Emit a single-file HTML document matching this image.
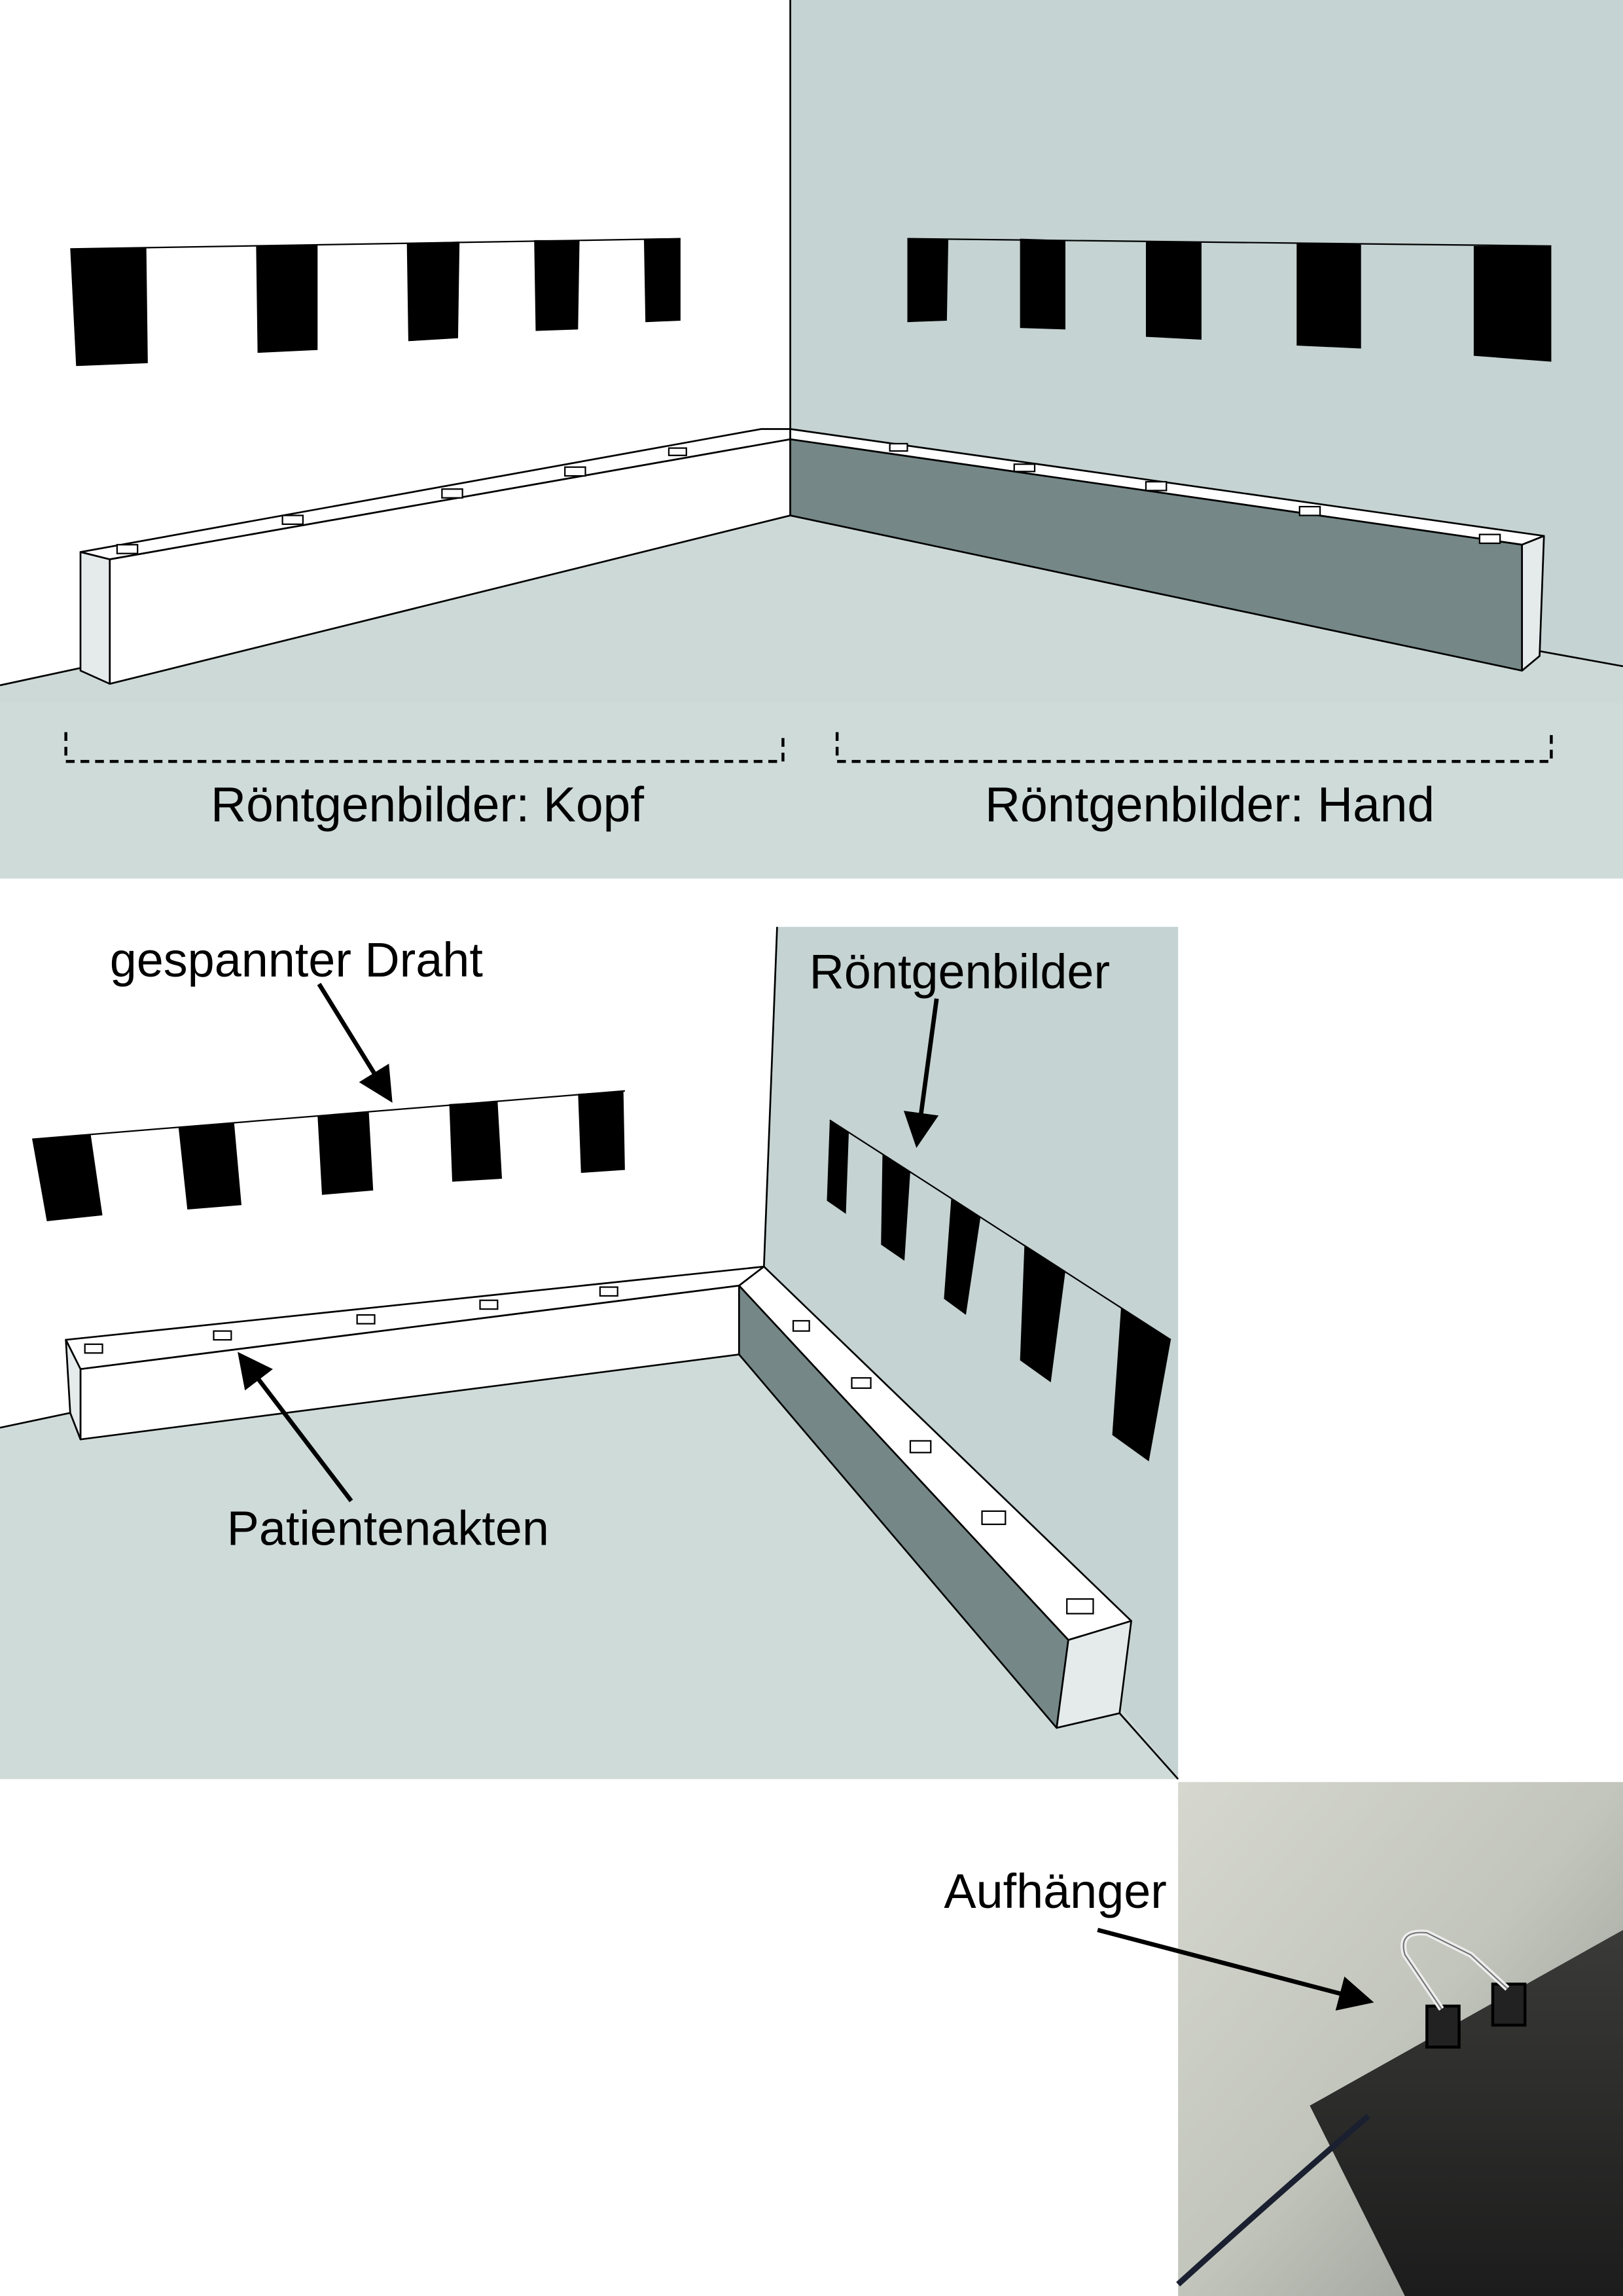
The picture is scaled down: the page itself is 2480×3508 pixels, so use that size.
<!DOCTYPE html>
<html><head><meta charset="utf-8"><style>
html,body{margin:0;padding:0;background:#fff;}
svg{display:block;}
text{font-family:"Liberation Sans",sans-serif;fill:#000;}
</style></head><body>
<svg width="2480" height="3508" viewBox="0 0 1109 1568" preserveAspectRatio="none" xmlns="http://www.w3.org/2000/svg">
<defs>
<marker id="ah" markerWidth="8" markerHeight="8" refX="6" refY="4" orient="auto" markerUnits="strokeWidth">
<path d="M0,0 L8,4 L0,8 z" fill="#000"/></marker>
<linearGradient id="ph" x1="0" y1="0" x2="1" y2="1">
<stop offset="0" stop-color="#d6d8cf"/><stop offset="0.5" stop-color="#c2c5bc"/><stop offset="1" stop-color="#8d908a"/></linearGradient>
<linearGradient id="pp" x1="0" y1="0" x2="0" y2="1">
<stop offset="0" stop-color="#3a3a38"/><stop offset="1" stop-color="#1c1c1c"/></linearGradient>
</defs>
<!-- TOP PANEL -->
<rect x="0" y="0" width="1109" height="600" fill="#cfdbd8"/>
<polygon points="0,0 540,0 540,352 0,468" fill="#fff"/>
<polygon points="540,0 1109,0 1109,455 540,352" fill="#c5d3d2"/>
<polygon points="0,468 540,352 1109,455 1109,480 0,480" fill="#cdd9d6"/>
<g stroke="#000" stroke-width="1.2" fill="none">
<line x1="540" y1="0" x2="540" y2="352"/>
<line x1="0" y1="468" x2="540" y2="352"/>
<line x1="540" y1="352" x2="1109" y2="455"/>
</g>
<g stroke="#000" stroke-width="1.2" stroke-linejoin="round">
<polygon points="55,377 520,293 540,293 540,300 75,382" fill="#fff"/>
<polygon points="75,382 540,300 540,352 75,467" fill="#fff"/>
<polygon points="55,377 75,382 75,467 55,458" fill="#e4ebea"/>
<polygon points="540,293 1055,366 1040,372 540,300" fill="#fff"/>
<polygon points="540,300 1040,372 1040,458 540,352" fill="#758787"/>
<polygon points="1040,372 1055,366 1052,448 1040,458" fill="#e4ebea"/>
</g>
<g fill="#fff" stroke="#000" stroke-width="1">
<rect x="80" y="372" width="14" height="6"/><rect x="193" y="352" width="14" height="6"/>
<rect x="302" y="334" width="14" height="6"/><rect x="386" y="319" width="14" height="6"/>
<rect x="457" y="306" width="12" height="5"/>
<rect x="608" y="303" width="12" height="5"/><rect x="693" y="317" width="14" height="5"/>
<rect x="783" y="329" width="14" height="6"/><rect x="888" y="346" width="14" height="6"/>
<rect x="1011" y="365" width="14" height="6"/>
</g>
<line x1="48" y1="170" x2="465" y2="163" stroke="#000" stroke-width="1"/>
<line x1="620" y1="163" x2="1060" y2="168" stroke="#000" stroke-width="1"/>
<g fill="#000">
<polygon points="48,170 100,169 101,248 52,250"/>
<polygon points="175,168 217,167 217,239 176,241"/>
<polygon points="278,166 314,165 313,231 279,233"/>
<polygon points="365,164 396,164 395,225 366,226"/>
<polygon points="440,163 465,163 465,219 441,220"/>
<polygon points="620,163 648,163 647,219 620,220"/>
<polygon points="697,163 728,164 728,225 697,224"/>
<polygon points="783,165 821,165 821,232 783,230"/>
<polygon points="886,166 930,167 930,238 886,236"/>
<polygon points="1007,168 1060,168 1060,247 1007,243"/>
</g>
<g stroke="#000" stroke-width="2" stroke-dasharray="6,4" fill="none">
<path d="M45,500 L45,520 L535,520 L535,500"/>
<path d="M572,500 L572,520 L1060,520 L1060,500"/>
</g>
<text x="144" y="561" font-size="33.5">Röntgenbilder: Kopf</text>
<text x="673" y="561" font-size="33.5">Röntgenbilder: Hand</text>
<!-- MIDDLE PANEL -->
<polygon points="531,633 805,633 805,1215 522,865" fill="#c5d3d2"/>
<polygon points="0,975 522,865 805,1215 0,1215" fill="#cfdbd8"/>
<g stroke="#000" stroke-width="1.2" fill="none">
<line x1="531" y1="633" x2="522" y2="865"/>
<line x1="0" y1="975" x2="522" y2="865"/>
<line x1="765" y1="1170" x2="805" y2="1215"/>
</g>
<g stroke="#000" stroke-width="1.2" stroke-linejoin="round">
<polygon points="45,915 522,865 505,878 55,935" fill="#fff"/>
<polygon points="55,935 505,878 505,925 55,983" fill="#fff"/>
<polygon points="45,915 55,935 55,983 48,965" fill="#e4ebea"/>
<polygon points="505,878 522,865 773,1107 730,1120" fill="#fff"/>
<polygon points="505,878 730,1120 722,1180 505,925" fill="#758787"/>
<polygon points="730,1120 773,1107 765,1170 722,1180" fill="#e4ebea"/>
</g>
<g fill="#fff" stroke="#000" stroke-width="1">
<rect x="58" y="918" width="12" height="6"/><rect x="146" y="909" width="12" height="6"/>
<rect x="244" y="898" width="12" height="6"/><rect x="328" y="888" width="12" height="6"/>
<rect x="410" y="879" width="12" height="6"/>
<rect x="542" y="902" width="11" height="7"/><rect x="582" y="941" width="13" height="7"/>
<rect x="622" y="984" width="14" height="8"/><rect x="671" y="1032" width="16" height="9"/>
<rect x="729" y="1092" width="18" height="10"/>
</g>
<line x1="22" y1="778" x2="427" y2="745" stroke="#000" stroke-width="1"/>
<line x1="567" y1="765" x2="800" y2="915" stroke="#000" stroke-width="1"/>
<g fill="#000">
<polygon points="22,778 62,775 70,830 32,834"/>
<polygon points="122,770 160,767 165,823 128,826"/>
<polygon points="217,762 252,759 255,813 220,816"/>
<polygon points="307,754 340,752 343,805 309,807"/>
<polygon points="395,747 426,745 427,799 397,801"/>
<polygon points="567,765 580,773 578,829 565,820"/>
<polygon points="603,788 622,800 618,861 602,850"/>
<polygon points="650,818 670,831 660,898 645,887"/>
<polygon points="700,850 728,868 718,944 697,929"/>
<polygon points="766,893 800,915 785,998 760,980"/>
</g>
<!-- PHOTO -->
<rect x="805" y="1217" width="304" height="351" fill="url(#ph)"/>
<polygon points="895,1438 1109,1318 1109,1568 960,1568" fill="url(#pp)"/>
<path d="M805,1560 Q860,1510 935,1445" stroke="#1a2030" stroke-width="4" fill="none"/>
<g stroke="#000" stroke-width="2">
<rect x="975" y="1370" width="22" height="28" fill="#222"/>
<rect x="1020" y="1355" width="22" height="28" fill="#222"/>
</g>
<path d="M985,1372 L960,1335 Q955,1318 975,1320 L1005,1335 L1030,1358" stroke="#eee" stroke-width="4" fill="none"/>
<path d="M985,1372 L960,1335 Q955,1318 975,1320 L1005,1335 L1030,1358" stroke="#777" stroke-width="1" fill="none"/>
<!-- LABELS & ARROWS -->
<text x="75" y="667" font-size="33">gespannter Draht</text>
<text x="553" y="675" font-size="33">Röntgenbilder</text>
<text x="155" y="1055" font-size="33">Patientenakten</text>
<text x="645" y="1303" font-size="33">Aufhänger</text>
<g stroke="#000" stroke-width="3" fill="none" marker-end="url(#ah)">
<line x1="218" y1="672" x2="265" y2="748"/>
<line x1="640" y1="682" x2="627" y2="778"/>
<line x1="240" y1="1025" x2="166" y2="928"/>
<line x1="750" y1="1318" x2="933" y2="1366"/>
</g>
</svg>
</body></html>
